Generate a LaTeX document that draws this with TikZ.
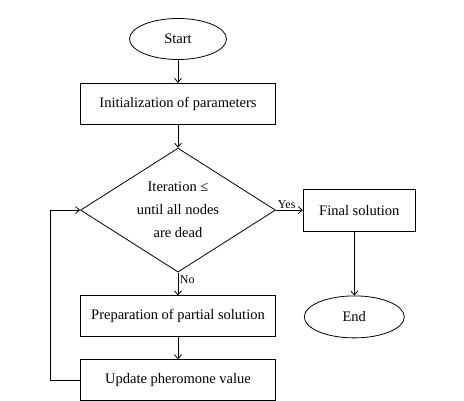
\documentclass[tikz,border=0pt]{standalone}
\usepackage{fontspec}
\setmainfont{Liberation Serif}
\usetikzlibrary{positioning, arrows.meta, shapes.geometric}

\tikzset{
    stepbox/.style={draw, rectangle, minimum width=195pt, minimum height=41pt, inner sep=0pt},
    termnode/.style={draw, ellipse, minimum width=97pt, minimum height=41pt, inner sep=0pt},
    decnode/.style={draw, diamond, aspect=1.57, minimum width=195pt, minimum height=124pt, inner sep=0pt, align=center},
    lbl/.style={font=\fontsize{12}{14}\selectfont, inner sep=1.5pt}
}

\begin{document}
\begin{tikzpicture}[->, >={Straight Barb[length=4pt,width=7pt]}, line width=0.8pt,
        font=\fontsize{14.5}{23}\selectfont, x=1pt, y=1pt]
        \useasboundingbox (0,0) rectangle (464,-401);
        \node[termnode] (start) at (178,-39) {Start};
        \node[stepbox] (init) [below = 23pt of start] {Initialization of parameters};
        \node[decnode] (dec) [below = 23pt of init] {Iteration \char"2264\\until all nodes\\are dead};
        \node[stepbox] (prep) [below = 23pt of dec] {Preparation of partial solution};
        \node[stepbox] (upd) [below = 22pt of prep] {Update pheromone value};
        \node[stepbox, minimum width=112pt, minimum height=42pt] (final) [right = 27pt of dec] {Final solution};
        \node[termnode, minimum width=100pt, minimum height=42pt] (end) [below = 64pt of final, xshift=-5pt] {End};
        \draw (start) -- (init);
        \draw (init) -- (dec);
        \draw (dec) -- node[lbl, above, pos=0.4] {Yes} (final);
        \draw (dec) -- node[lbl, right, pos=0.3] {No} (prep);
        \draw (prep) -- (upd);
        \draw (end |- final.south) -- (end);
        \draw (upd.west) -- ++(-30pt,0) |- (dec.west);
    \end{tikzpicture}
\end{document}
